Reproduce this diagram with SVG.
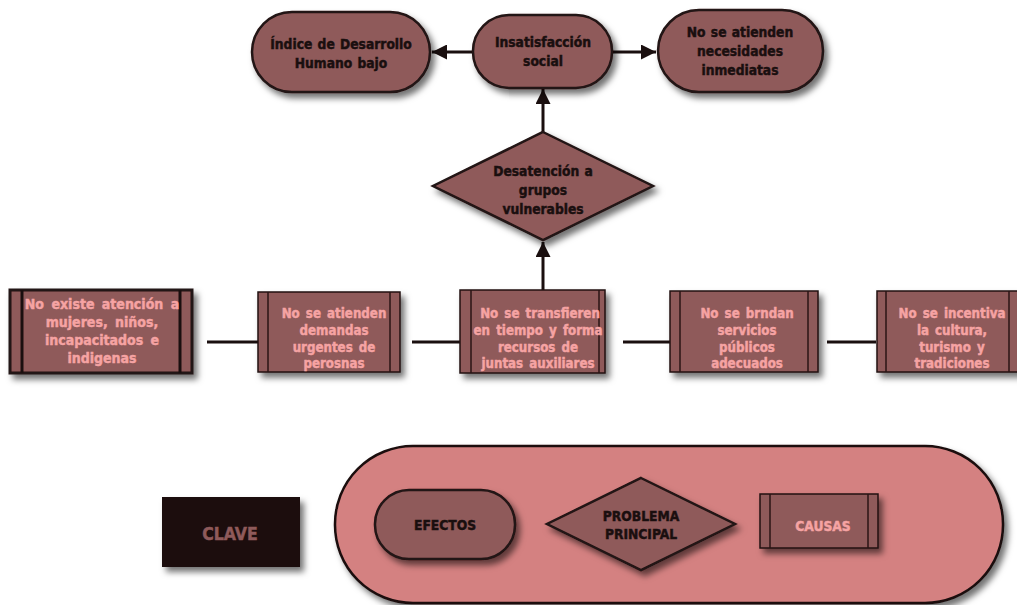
<svg xmlns="http://www.w3.org/2000/svg" width="1017" height="605" viewBox="0 0 1017 605">
<style>
.node{fill:#8f5a5a;stroke:#221313;stroke-width:2.5}
.t{font-family:"DejaVu Sans Condensed","DejaVu Sans","Liberation Sans",Arial,sans-serif;font-stretch:condensed;font-weight:bold;font-size:13.7px;text-anchor:middle;word-spacing:1px;stroke-width:0.45px}
.dark{fill:#1a0f0f;stroke:#1a0f0f}
.pink{fill:#f6a3a3;stroke:#f6a3a3}
.wide{font-size:13.2px;word-spacing:2px}
.conn{stroke:#1a0f0f;stroke-width:3;fill:none}
.inner{stroke:#2a1515;stroke-width:1.5}
</style>
<defs>
<filter id="sh" x="-20%" y="-20%" width="150%" height="160%">
<feDropShadow dx="4" dy="5" stdDeviation="3" flood-color="#000" flood-opacity="0.55"/>
</filter>
<marker id="ah" viewBox="0 0 10 10" refX="10" refY="5" markerWidth="5" markerHeight="5" markerUnits="strokeWidth" orient="auto">
<path d="M0,0 L10,5 L0,10 z" fill="#1a0f0f"/>
</marker>
</defs>
<rect width="1017" height="605" fill="#ffffff"/>

<g id="connectors">
<line class="conn" x1="473" y1="52" x2="432" y2="52" marker-end="url(#ah)"/>
<line class="conn" x1="612" y1="52" x2="656" y2="52" marker-end="url(#ah)"/>
<line class="conn" x1="543" y1="132" x2="543" y2="89" marker-end="url(#ah)"/>
<line class="conn" x1="543" y1="290" x2="543" y2="242" marker-end="url(#ah)"/>
<line class="conn" x1="207" y1="342" x2="258" y2="342"/>
<line class="conn" x1="412" y1="342" x2="460" y2="342"/>
<line class="conn" x1="623" y1="342" x2="670" y2="342"/>
<line class="conn" x1="827" y1="342" x2="876" y2="342"/>
</g>

<g id="efecto1">
<rect class="node" x="252" y="12" width="178" height="80" rx="40" filter="url(#sh)"/>
<text class="t dark" x="341" y="49">Índice de Desarrollo</text>
<text class="t dark" x="341" y="68">Humano bajo</text>
</g>
<g id="efecto2">
<rect class="node" x="473" y="15" width="139" height="73" rx="36" filter="url(#sh)"/>
<text class="t dark" x="543" y="47">Insatisfacción</text>
<text class="t dark" x="543" y="66">social</text>
</g>
<g id="efecto3">
<rect class="node" x="658" y="10" width="165" height="82" rx="41" filter="url(#sh)"/>
<text class="t dark" x="740" y="37">No se atienden</text>
<text class="t dark" x="740" y="56">necesidades</text>
<text class="t dark" x="740" y="75">inmediatas</text>
</g>

<g id="problema">
<polygon class="node" points="543,132 653,186 543,240 433,186" filter="url(#sh)"/>
<text class="t dark" x="543" y="176">Desatención a</text>
<text class="t dark" x="543" y="195">grupos</text>
<text class="t dark" x="543" y="214">vulnerables</text>
</g>

<g id="causa1">
<rect class="node" x="10" y="290" width="182" height="83" filter="url(#sh)" style="stroke-width:3"/>
<line x1="22" y1="290" x2="22" y2="373" stroke="#1a0f0f" stroke-width="3"/>
<line x1="180" y1="290" x2="180" y2="373" stroke="#1a0f0f" stroke-width="3"/>
<text class="t pink wide" x="102" y="309" style="font-size:14px;word-spacing:3px">No existe atención a</text>
<text class="t pink wide" x="102" y="327" style="font-size:14px;word-spacing:3px">mujeres, niños,</text>
<text class="t pink wide" x="102" y="345" style="font-size:14px;word-spacing:3px">incapacitados e</text>
<text class="t pink wide" x="102" y="363" style="font-size:14px;word-spacing:3px">indigenas</text>
</g>
<g id="causa2">
<rect class="node" x="258" y="292" width="142" height="80" filter="url(#sh)" style="stroke-width:1.5"/>
<line class="inner" x1="268" y1="292" x2="268" y2="372"/>
<line class="inner" x1="390" y1="292" x2="390" y2="372"/>
<text class="t pink wide" x="334" y="318">No se atienden</text>
<text class="t pink wide" x="334" y="335">demandas</text>
<text class="t pink wide" x="334" y="352">urgentes de</text>
<text class="t pink wide" x="334" y="368">perosnas</text>
</g>
<g id="causa3">
<rect class="node" x="460" y="290" width="145" height="83" filter="url(#sh)" style="stroke-width:1.5"/>
<line class="inner" x1="471" y1="290" x2="471" y2="373"/>
<line class="inner" x1="599" y1="290" x2="599" y2="373"/>
<text class="t pink wide" x="540" y="318">No se transfieren</text>
<text class="t pink wide" x="538" y="335">en tiempo y forma</text>
<text class="t pink wide" x="538" y="352">recursos de</text>
<text class="t pink wide" x="538" y="368">juntas auxiliares</text>
</g>
<g id="causa4">
<rect class="node" x="670" y="291" width="148" height="81" filter="url(#sh)" style="stroke-width:1.5"/>
<line class="inner" x1="680" y1="291" x2="680" y2="372"/>
<line class="inner" x1="808" y1="291" x2="808" y2="372"/>
<text class="t pink wide" x="747" y="318">No se brndan</text>
<text class="t pink wide" x="747" y="335">servicios</text>
<text class="t pink wide" x="747" y="352">públicos</text>
<text class="t pink wide" x="747" y="368">adecuados</text>
</g>
<g id="causa5">
<rect class="node" x="877" y="291" width="150" height="81" filter="url(#sh)" style="stroke-width:1.5"/>
<line class="inner" x1="886" y1="291" x2="886" y2="372"/>
<line class="inner" x1="1009" y1="291" x2="1009" y2="372"/>
<text class="t pink wide" x="952" y="318">No se incentiva</text>
<text class="t pink wide" x="952" y="335">la cultura,</text>
<text class="t pink wide" x="952" y="352">turismo y</text>
<text class="t pink wide" x="952" y="368">tradiciones</text>
</g>

<g id="clave">
<rect x="162" y="497" width="138" height="70" fill="#1c0f0f" filter="url(#sh)"/>
<text class="t" x="230" y="540" fill="#8f5a5a" stroke="#8f5a5a" style="font-size:17.5px">CLAVE</text>
</g>
<g id="leyenda">
<rect x="335" y="446" width="668" height="157" rx="78" fill="#d48181" stroke="#1a0f0f" stroke-width="2.5" filter="url(#sh)"/>
</g>
<g id="leyenda-efectos">
<rect class="node" x="375" y="490" width="140" height="69" rx="34" filter="url(#sh)"/>
<text class="t dark" x="445" y="530">EFECTOS</text>
</g>
<g id="leyenda-problema">
<polygon class="node" points="641,478 735,524 641,570 547,524" filter="url(#sh)"/>
<text class="t dark" x="641" y="521">PROBLEMA</text>
<text class="t dark" x="641" y="539">PRINCIPAL</text>
</g>
<g id="leyenda-causas">
<rect class="node" x="760" y="494" width="118" height="54" filter="url(#sh)" style="stroke-width:1.5"/>
<line class="inner" x1="770" y1="494" x2="770" y2="548"/>
<line class="inner" x1="868" y1="494" x2="868" y2="548"/>
<text class="t pink" x="823" y="531">CAUSAS</text>
</g>
</svg>
